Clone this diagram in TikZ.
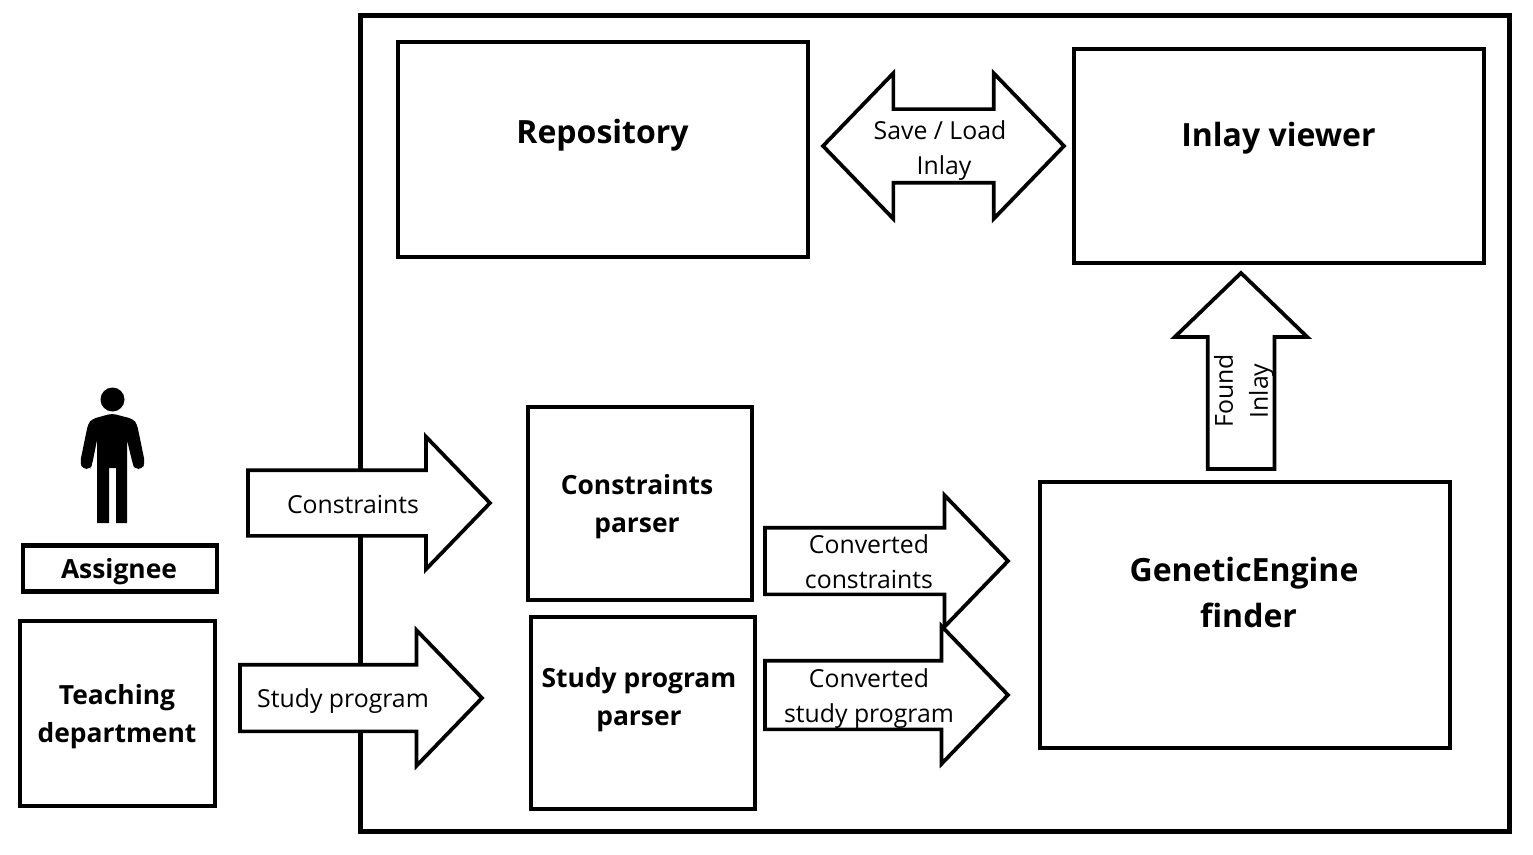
\documentclass[tikz,border=0pt]{standalone}
\usepackage{tikz, xcolor}
\usepackage{fontspec}
\setmainfont{Open Sans}
\usetikzlibrary{shapes.arrows}

\tikzset{
    blockbox/.style 2 args = {draw, line width=3.2pt, minimum width=#1*0.75pt, minimum height=#2*0.75pt, inner sep=0pt, outer sep=0pt},
    blockarrow/.style n args = {3}{single arrow, draw, fill=white, line width=2.8pt, inner xsep=0pt, inner ysep=#2*0.375pt, outer sep=0pt,
                    minimum height=#1*0.75pt, single arrow head extend=#3*0.75pt,
                    single arrow head indent=0pt, single arrow tip angle=92, anchor=tail},
    bigtext/.style = {font=\fontsize{24}{34.5}\selectfont\bfseries, align=center, inner sep=0pt},
    midtext/.style = {font=\fontsize{19.8}{28.5}\selectfont\bfseries, align=center, inner sep=0pt},
    plaintext/.style = {font=\fontsize{18.6}{26.25}\selectfont, align=center, inner sep=0pt},
}

\begin{document}
\begin{tikzpicture}[x=0.75pt, y=-0.75pt]
    \useasboundingbox (0,0) rectangle (1533,855);

    \node[blockbox={1149}{815}, line width=3.75pt] (system) at (935,423.5) {};
    \node[blockbox={410}{215}] (repository) at (603,149.5) {};
    \node[blockbox={410}{214}] (viewer) at (1279,156) {};
    \node[blockbox={224}{193}] (constraintsparser) at (640,503.5) {};
    \node[blockbox={224}{192}] (studyparser) at (643,713) {};
    \node[blockbox={410}{266}] (engine) at (1245,615) {};
    \node[blockbox={194}{46}] (assignee) at (120,568.5) {};
    \node[blockbox={195}{185}] (department) at (117.5,713.5) {};

    \node[bigtext] (repositorytext) at (602.5,135) {Repository};
    \node[bigtext] (viewertext) at (1278.5,138) {Inlay viewer};
    \node[bigtext] (enginetext) at (1244,592.5) {GeneticEngine\\\hspace*{6.75pt}finder};
    \node[midtext] (constraintsparsertext) at (637,507) {Constraints\\parser};
    \node[midtext] (studyparsertext) at (639,700) {Study program\\parser};
    \node[midtext] (assigneetext) at (119,572) {Assignee};
    \node[midtext] (departmenttext) at (117,717) {Teaching\\department};

    \fill (112.5,399.5) circle (12);
    \fill[rounded corners=3] (97,523) [sharp corners] -- (97,440) [rounded corners=3] -- (92,465) -- (90,469) -- (83,469) -- (80,463)
                    -- (88,424) -- (92,419) -- (112,413.5) -- (133,419) -- (137,424) -- (145,463) -- (142,469) -- (135,469)
                    -- (133,465) [sharp corners] -- (127,440) -- (127,523) -- (116,523) -- (116,468) -- (109,468) -- (109,523) -- cycle;

    \node[blockarrow={242}{62}{33.5}] (constraintsarrow) at (248,503) {};
    \node[blockarrow={242}{63}{34.5}] (studyarrow) at (240,698) {};
    \node[blockarrow={243}{63}{32.5}] (convconstraintsarrow) at (765,561) {};
    \node[blockarrow={243}{65}{34.5}] (convstudyarrow) at (765,695) {};
    \node[blockarrow={196}{63}{33}, rotate=90] (foundarrow) at (1241,469) {};
    \node[double arrow, draw, fill=white, line width=2.8pt, inner xsep=0pt, inner ysep=70*0.375pt, outer sep=0pt, minimum height=241*0.75pt,
                    double arrow head extend=36*0.75pt, double arrow head indent=0pt,
                    double arrow tip angle=92] (saveload) at (943.5,146) {};

    \node[plaintext] (constraintstext) at (353,505) {Constraints};
    \node[plaintext] (studytext) at (343,701) {Study program};
    \node[plaintext] (convconstraintstext) at (869,562) {Converted\\constraints};
    \node[plaintext] (convstudytext) at (869,699) {Converted\\study program};
    \node[plaintext] (saveloadtext) at (940,151) {Save / Load\\\hspace*{6pt}Inlay};
    \node[plaintext, rotate=90] (foundtext) at (1244,391) {Found\\Inlay};
\end{tikzpicture}
\end{document}
